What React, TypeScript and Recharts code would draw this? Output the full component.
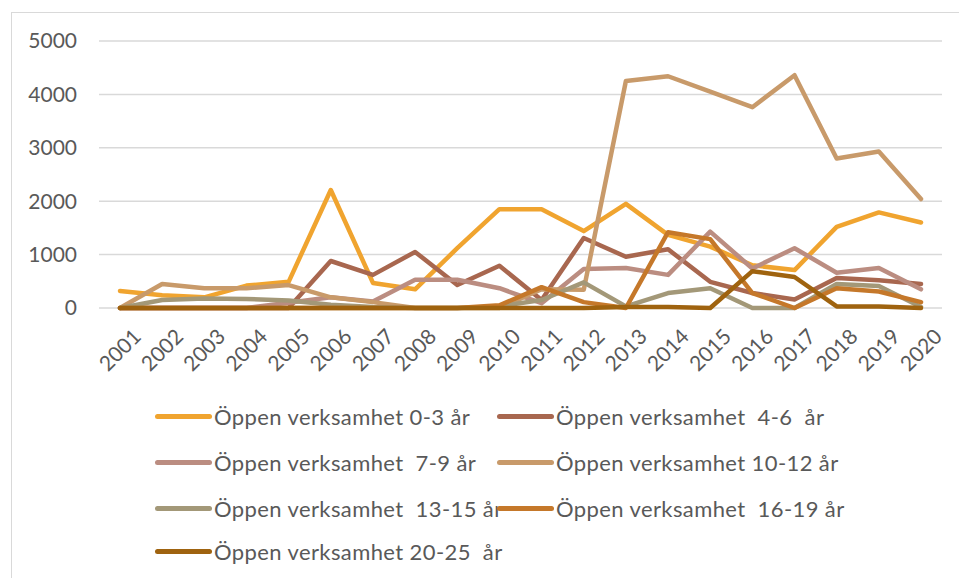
import React from 'react';
import { LineChart, Line, XAxis, YAxis, CartesianGrid } from 'recharts';

const years = ['2001', '2002', '2003', '2004', '2005', '2006', '2007', '2008', '2009', '2010',
  '2011', '2012', '2013', '2014', '2015', '2016', '2017', '2018', '2019', '2020'];

const s0_3 = [320, 240, 200, 420, 490, 2210, 470, 350, 1120, 1850, 1850, 1440, 1950, 1370, 1150, 800, 710, 1520, 1790, 1600];
const s4_6 = [0, 0, 0, 0, 0, 880, 620, 1050, 430, 790, 150, 1310, 960, 1100, 490, 280, 160, 560, 520, 450];
const s7_9 = [0, 0, 0, 0, 100, 200, 120, 530, 530, 370, 90, 730, 750, 620, 1430, 740, 1120, 660, 750, 350];
const s10_12 = [0, 450, 370, 370, 430, 200, 110, 0, 0, 0, 350, 340, 4250, 4340, 4050, 3760, 4360, 2800, 2930, 2040];
const s13_15 = [0, 150, 180, 170, 140, 60, 20, 0, 0, 30, 150, 480, 30, 280, 370, 0, 0, 450, 410, 20];
const s16_19 = [0, 0, 0, 0, 0, 0, 0, 0, 0, 50, 390, 110, 0, 1420, 1290, 280, 0, 370, 310, 110];
const s20_25 = [0, 0, 0, 0, 0, 0, 0, 0, 0, 0, 0, 0, 20, 20, 0, 690, 580, 30, 30, 0];

const yTicks = [0, 1000, 2000, 3000, 4000, 5000];

const series = [
  { key: 'a', name: 'Öppen verksamhet 0-3 år', values: s0_3, color: '#F0A42F' },
  { key: 'b', name: 'Öppen verksamhet  4-6  år', values: s4_6, color: '#A8674F' },
  { key: 'c', name: 'Öppen verksamhet  7-9 år', values: s7_9, color: '#BB8D81' },
  { key: 'd', name: 'Öppen verksamhet 10-12 år', values: s10_12, color: '#C89A6A' },
  { key: 'e', name: 'Öppen verksamhet  13-15 år', values: s13_15, color: '#A39878' },
  { key: 'f', name: 'Öppen verksamhet  16-19 år', values: s16_19, color: '#C5782A' },
  { key: 'g', name: 'Öppen verksamhet 20-25  år', values: s20_25, color: '#9F630F' },
];

const data = years.map((year, i) => {
  const row: { [k: string]: string | number } = { year };
  series.forEach(s => { row[s.key] = s.values[i]; });
  return row;
});

const FONT = 'Lato, "Open Sans", sans-serif';

const YearTick = (props: any) => {
  const { x, y, payload } = props;
  const cy = y + 34;
  return (
    <text x={x} y={cy} dy="0.35em" textAnchor="middle" fill="#595959"
      fontSize={21} fontFamily={FONT} transform={`rotate(-45 ${x} ${cy})`}>
      {payload.value}
    </text>
  );
};

const legendPos = [
  { left: 155, top: 416 }, { left: 497, top: 416 },
  { left: 155, top: 462 }, { left: 497, top: 462 },
  { left: 155, top: 508 }, { left: 497, top: 508 },
  { left: 155, top: 551 },
];

export default function App() {
  return (
    <div style={{ position: 'absolute', left: 0, top: 0, width: 959, height: 578, background: '#fff', overflow: 'hidden', fontFamily: FONT }}>
      <div style={{ position: 'absolute', left: 11, top: 12, width: 1000, height: 700, border: '1.5px solid #D9D9D9' }} />
      <LineChart width={959} height={578} data={data}
        margin={{ top: 41, right: 17, left: 0, bottom: 0 }}
        style={{ position: 'absolute', left: 0, top: 0 }}>
        <CartesianGrid vertical={false} stroke="#D9D9D9" strokeWidth={1.5} />
        <XAxis dataKey="year" axisLine={false} tickLine={false} interval={0}
          padding={{ left: 21, right: 21 }} tick={<YearTick />} height={270} />
        <YAxis width={99} domain={[0, 5000]} ticks={yTicks} axisLine={false} tickLine={false}
          tickMargin={16} tick={{ fill: '#595959', fontSize: 21, fontFamily: FONT }} />
        {series.map(s => (
          <Line key={s.key} dataKey={s.key} name={s.name} stroke={s.color} strokeWidth={4.5}
            dot={false} activeDot={false} strokeLinejoin="round" strokeLinecap="round"
            isAnimationActive={false} />
        ))}
      </LineChart>
      {series.map((s, i) => (
        <div key={s.key} style={{ position: 'absolute', left: legendPos[i].left, top: legendPos[i].top - 14, height: 28, display: 'flex', alignItems: 'center' }}>
          <div style={{ width: 57, height: 5, borderRadius: 3, background: s.color }} />
          <span style={{ whiteSpace: 'pre', fontSize: 22, letterSpacing: 0.4, color: '#595959', marginLeft: 2 }}>{s.name}</span>
        </div>
      ))}
    </div>
  );
}
